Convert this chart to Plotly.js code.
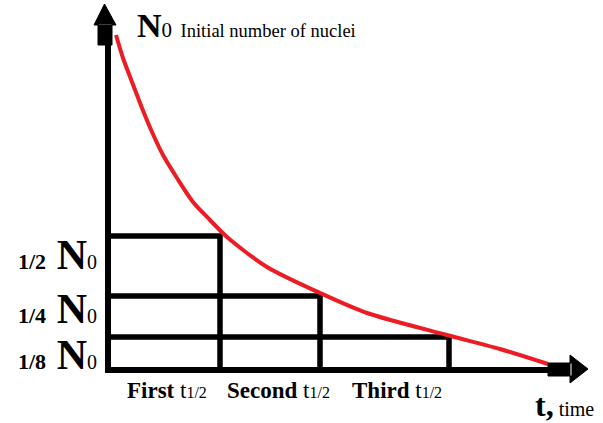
<!DOCTYPE html>
<html>
<head>
<meta charset="utf-8">
<script src="https://cdn.plot.ly/plotly-3.0.1.min.js"></script>
<style>html,body{margin:0;padding:0;background:#fff;}#chart{width:603px;height:423px;}</style>
</head>
<body>
<div id="chart"></div>
<script>
// Decay curve (t and N in drawing units)
const curveT = [8, 15, 24, 34, 44, 55, 69, 85, 102, 119, 159, 212, 259, 339, 392, 440];
const curveN = [335, 312, 288, 262, 238, 215, 192, 168, 150, 133, 103, 77, 57, 35, 21, 6];

// Half-life boundaries and remaining-nuclei levels
const halfLifeT = [112, 212, 341];
const levelN = [134, 74, 33];
const levelLabels = ["1/2", "1/4", "1/8"];
const periodLabels = ["First", "Second", "Third"];

// Axis extents
const axisTmax = 440;
const axisNmax = 332;

const FONT = "Liberation Serif";
const SPAN = (size, txt) => "<span style='font-size:" + size + "px'>" + txt + "</span>";

// Box outlines built from the half-life arrays
const boxX = [], boxY = [];
halfLifeT.forEach((t, i) => {
  boxX.push(0, t, t, null);
  boxY.push(levelN[i], levelN[i], 0, null);
});

const traces = [
  {x: boxX, y: boxY, mode: "lines", line: {color: "#000", width: 5.5}, hoverinfo: "skip"},
  {x: [0, 0, null, -2, axisTmax], y: [-3, axisNmax, null, 0, 0], mode: "lines",
   line: {color: "#000", width: 6}, hoverinfo: "skip"},
  {x: curveT, y: curveN, mode: "lines", line: {color: "rgb(237,28,36)", width: 4, shape: "spline", smoothing: 0.8},
   hoverinfo: "skip"}
];

const annotations = [];
// Label at the top of the N axis
annotations.push({
  x: 27, y: 344.5, xref: "x", yref: "y", xanchor: "left", yanchor: "middle", showarrow: false,
  text: "<b>N</b>" + SPAN(21, "0") + " " + SPAN(18.5, "Initial number of nuclei"),
  font: {family: FONT, size: 34, color: "#000"}
});
// Level labels
const levelLabelShift = [-18.5, -12.5, -17.5];
levelN.forEach((n, i) => {
  annotations.push({
    x: -9, y: n + levelLabelShift[i], xref: "x", yref: "y", xanchor: "right", yanchor: "middle", showarrow: false,
    text: SPAN(22, "<b>" + levelLabels[i] + "</b>") + " <b>N</b>" + SPAN(20, "0"),
    font: {family: FONT, size: 42, color: "#000"}
  });
});
// Period labels
const periodStart = [0].concat(halfLifeT.slice(0, 2));
const periodShift = [3, 8, 12.5];
periodLabels.forEach((p, i) => {
  annotations.push({
    x: (periodStart[i] + halfLifeT[i]) / 2 + periodShift[i], y: -20.3, xref: "x", yref: "y",
    xanchor: "center", yanchor: "middle", showarrow: false,
    text: "<b>" + p + "</b> t" + SPAN(16, "1/2"),
    font: {family: FONT, size: 23, color: "#000"}
  });
});
// Time axis label
annotations.push({
  x: 425, y: -35, xref: "x", yref: "y", xanchor: "left", yanchor: "middle", showarrow: false,
  text: "<b>t,</b>" + SPAN(20, " time"),
  font: {family: FONT, size: 32, color: "#000"}
});

const shapes = [
  {type: "path", xref: "x", yref: "y", xsizemode: "pixel", ysizemode: "pixel",
   xanchor: 0, yanchor: axisNmax,
   path: "M-10,-7 L4,-7 L4,14 L-10,14 Z M-14,13 L8,13 L-3.5,34 Z",
   fillcolor: "#000", line: {color: "#000", width: 1}, layer: "above"},
  {type: "path", xref: "x", yref: "y", xsizemode: "pixel", ysizemode: "pixel",
   xanchor: axisTmax, yanchor: 0,
   path: "M0,7 L24,7 L24,-6 L0,-6 Z M22,15 L40,1 L22,-13 Z",
   fillcolor: "#000", line: {color: "#000", width: 1}, layer: "above"}
];

const layout = {
  width: 603, height: 423,
  margin: {l: 0, r: 0, t: 0, b: 0},
  paper_bgcolor: "#fff", plot_bgcolor: "#fff",
  showlegend: false, hovermode: false,
  xaxis: {range: [-108, 495], visible: false, fixedrange: true},
  yaxis: {range: [-53, 370], visible: false, fixedrange: true},
  annotations: annotations,
  shapes: shapes
};

Plotly.newPlot("chart", traces, layout, {displayModeBar: false, staticPlot: true});
</script>
</body>
</html>
